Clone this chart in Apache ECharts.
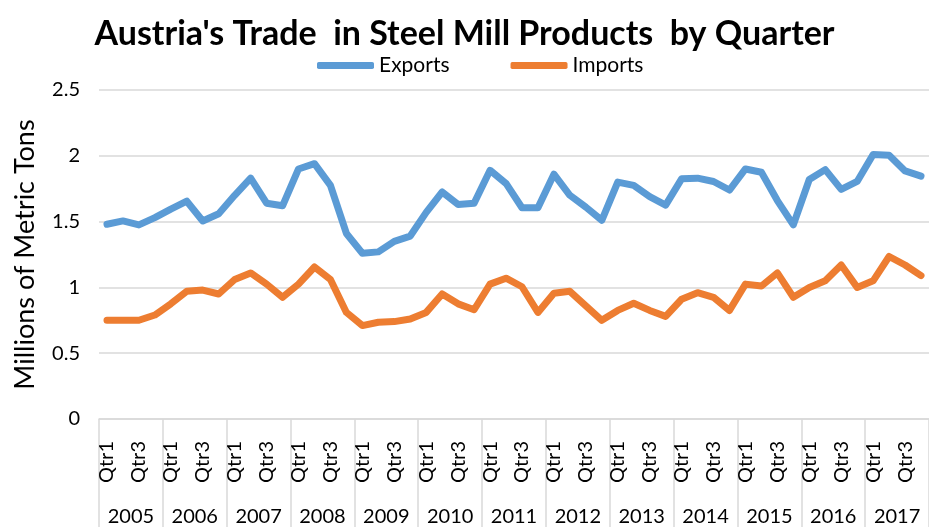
<!DOCTYPE html>
<html>
<head>
<meta charset="utf-8">
<script src="https://cdn.jsdelivr.net/npm/echarts@6/dist/echarts.min.js"></script>
<style>
html,body{margin:0;padding:0;background:#fff;}
#chart{width:929px;height:527px;}
</style>
</head>
<body>
<div id="chart"></div>
<script>
var years = ['2005','2006','2007','2008','2009','2010','2011','2012','2013','2014','2015','2016','2017'];
var quarters = ['Qtr1','Qtr2','Qtr3','Qtr4'];
var exportsData = [
  1.48, 1.505, 1.475, 1.53,
  1.595, 1.655, 1.505, 1.56,
  1.70, 1.83, 1.64, 1.62,
  1.90, 1.94, 1.775, 1.41,
  1.26, 1.27, 1.35, 1.39,
  1.57, 1.725, 1.63, 1.64,
  1.89, 1.79, 1.605, 1.605,
  1.86, 1.70, 1.61, 1.51,
  1.80, 1.775, 1.69, 1.625,
  1.825, 1.83, 1.805, 1.74,
  1.90, 1.875, 1.66, 1.475,
  1.82, 1.895, 1.745, 1.805,
  2.01, 2.005, 1.885, 1.845
];
var importsData = [
  0.75, 0.75, 0.75, 0.79,
  0.875, 0.97, 0.98, 0.95,
  1.06, 1.11, 1.025, 0.925,
  1.025, 1.155, 1.06, 0.81,
  0.71, 0.735, 0.74, 0.76,
  0.81, 0.95, 0.875, 0.83,
  1.025, 1.07, 1.005, 0.81,
  0.955, 0.97, 0.86, 0.75,
  0.825, 0.88, 0.825, 0.78,
  0.91, 0.96, 0.925, 0.825,
  1.025, 1.01, 1.11, 0.925,
  1.0, 1.05, 1.17, 1.0,
  1.05, 1.235, 1.17, 1.09
];
var yTicks = [0, 0.5, 1, 1.5, 2, 2.5];

var categories = [];
years.forEach(function (y) { quarters.forEach(function (q) { categories.push(y + ' ' + q); }); });

var FONT = 'Lato, "Open Sans", sans-serif';
var chart = echarts.init(document.getElementById('chart'), null, {renderer: 'canvas'});
chart.setOption({
  animation: false,
  backgroundColor: '#ffffff',
  title: {
    text: "Austria's Trade  in Steel Mill Products  by Quarter",
    left: 'center',
    top: 12,
    textStyle: {fontFamily: FONT, fontWeight: 'bold', fontSize: 34, color: '#000'}
  },
  legend: {
    left: 312,
    top: 50,
    itemWidth: 57,
    itemHeight: 7,
    itemGap: 61,
    icon: 'roundRect',
    textStyle: {fontFamily: FONT, fontSize: 21, color: '#000'},
    data: ['Exports', 'Imports']
  },
  grid: {left: 99, top: 90, width: 837, height: 332, containLabel: false},
  xAxis: [
    {
      type: 'category',
      data: categories,
      boundaryGap: true,
      axisLine: {show: true, lineStyle: {color: '#d9d9d9', width: 1.5}},
      axisTick: {show: false},
      axisLabel: {
        interval: 1,
        rotate: 90,
        margin: 22,
        fontFamily: FONT,
        fontSize: 20,
        color: '#000',
        formatter: function (v) { return v.split(' ')[1]; }
      },
      splitLine: {show: false}
    },
    {
      type: 'category',
      data: years,
      position: 'bottom',
      boundaryGap: true,
      axisLine: {show: false},
      axisTick: {show: true, length: 110, lineStyle: {color: '#d9d9d9', width: 1.5}},
      axisLabel: {interval: 0, margin: 88, fontFamily: FONT, fontSize: 20, color: '#000'},
      splitLine: {show: false}
    }
  ],
  yAxis: {
    type: 'value',
    min: yTicks[0],
    max: yTicks[yTicks.length - 1],
    interval: 0.5,
    name: 'Millions of Metric Tons',
    nameLocation: 'middle',
    nameGap: 60,
    nameTextStyle: {fontFamily: FONT, fontSize: 27, color: '#000'},
    axisLine: {show: false},
    axisTick: {show: false},
    axisLabel: {margin: 19, fontFamily: FONT, fontSize: 20, color: '#000'},
    splitLine: {show: true, lineStyle: {color: '#d9d9d9', width: 1.5}}
  },
  series: [
    {
      name: 'Exports',
      type: 'line',
      xAxisIndex: 0,
      data: exportsData,
      symbol: 'none',
      smooth: false,
      color: '#5B9BD5',
      lineStyle: {width: 7, color: '#5B9BD5', cap: 'round', join: 'round'}
    },
    {
      name: 'Imports',
      type: 'line',
      xAxisIndex: 0,
      data: importsData,
      symbol: 'none',
      smooth: false,
      color: '#ED7D31',
      lineStyle: {width: 7, color: '#ED7D31', cap: 'round', join: 'round'}
    }
  ]
});
</script>
</body>
</html>
